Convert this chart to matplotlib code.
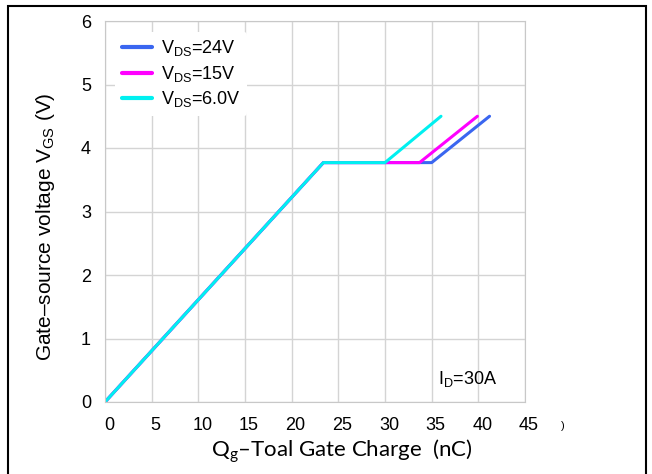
import matplotlib
matplotlib.use("Agg")
import matplotlib.pyplot as plt
from matplotlib.patches import Rectangle
import matplotlib.transforms as mtrans

# Data
qg_24 = [0, 23.4, 35.0, 41.2]
vgs_24 = [0, 3.77, 3.77, 4.5]
qg_15 = [0, 23.4, 33.7, 39.9]
vgs_15 = [0, 3.77, 3.77, 4.5]
qg_6 = [0, 23.4, 30.0, 36.0]
vgs_6 = [0, 3.77, 3.77, 4.5]
labels = ["V$_{\\mathregular{DS}}$=24V", "V$_{\\mathregular{DS}}$=15V", "V$_{\\mathregular{DS}}$=6.0V"]
colors = ["#3a66f0", "#ff00ff", "#00f0f0"]
xticks = [0, 5, 10, 15, 20, 25, 30, 35, 40, 45]
yticks = [0, 1, 2, 3, 4, 5, 6]

plt.rcParams['font.family'] = ['Liberation Sans', 'DejaVu Sans']
plt.rcParams['mathtext.fontset'] = 'custom'
plt.rcParams['mathtext.rm'] = 'Liberation Sans'

fig = plt.figure(figsize=(6.52, 4.74), dpi=100)
ax = fig.add_axes([105/652, 1-402/474, (525-105)/652, (402-21)/474])

for q, v, c, l in [(qg_24, vgs_24, colors[0], labels[0]),
                   (qg_15, vgs_15, colors[1], labels[1]),
                   (qg_6, vgs_6, colors[2], labels[2])]:
    ax.plot(q, v, color=c, lw=2.2, label=l, solid_capstyle='round')

ax.set_xlim(0, 45)
ax.set_ylim(0, 6)
ax.set_xticks(xticks)
ax.set_yticks(yticks)
ax.grid(True, color="#d4d4d4", lw=1)
ax.set_axisbelow(True)
for s in ax.spines.values():
    s.set_color("#c8c8c8")
ax.tick_params(axis='y', length=0, labelsize=13, pad=10)
ax.tick_params(axis='x', length=0, labelsize=13, pad=11)
ax.set_xticklabels([str(t) for t in xticks])
offset = mtrans.ScaledTranslation(4/100, 0, fig.dpi_scale_trans)
for lab in ax.get_xticklabels():
    lab.set_transform(lab.get_transform() + offset)

leg = ax.legend(loc='upper left', bbox_to_anchor=(0.012, 0.985), frameon=True,
                fontsize=13, handlelength=1.65, handletextpad=0.55,
                labelspacing=0.3, borderaxespad=0.3, borderpad=0.35)
leg.get_frame().set_edgecolor('none')
leg.get_frame().set_facecolor('white')
leg.get_frame().set_alpha(1)
for h in leg.get_lines():
    h.set_linewidth(3)

ax.text(0.935, 0.06, "I$_{\\mathregular{D}}$=30A", transform=ax.transAxes,
        fontsize=13, ha='right', va='center')

ax.set_ylabel("Gate\u2013source voltage V$_{\\mathregular{GS}}$ (V)", fontsize=15)
ax.yaxis.set_label_coords((46-105)/420, (402-227)/381)
ax.yaxis.label.set_va('center')
ax.set_xlabel("Q$_{\\mathregular{g}}$\u2013Toal Gate Charge  (nC)", fontsize=16,
              family=['Lato', 'DejaVu Sans'])
ax.xaxis.set_label_coords((342-105)/420, -(451-402)/381)
ax.xaxis.label.set_va('center')

fig.text(563/652, 1-426/474, ")", fontsize=8, ha='center', va='center')

fig.patches.append(Rectangle((8/652, -0.02), (646-8)/652, (468-0)/474 + 0.02,
                             transform=fig.transFigure, fill=False,
                             edgecolor='black', lw=1.5))

fig.savefig("out.png", dpi=100)
